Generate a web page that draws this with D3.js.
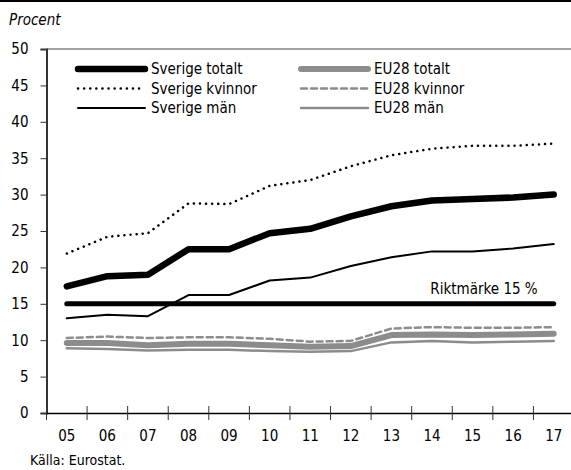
<!DOCTYPE html>
<html>
<head>
<meta charset="utf-8">
<script src="https://cdn.jsdelivr.net/npm/d3@7"></script>
<style>
  body { margin: 0; background: #fff; }
  svg { display: block; }
  text { font-family: "Liberation Sans Narrow", "DejaVu Sans Condensed", sans-serif; font-stretch: condensed; fill: #000; }
</style>
</head>
<body>
<svg></svg>
<script>
// år (x-axel)
const years = ["05", "06", "07", "08", "09", "10", "11", "12", "13", "14", "15", "16", "17"];
const yTicks = [0, 5, 10, 15, 20, 25, 30, 35, 40, 45, 50];

// serier, procent
const sverigeTotalt = [17.4, 18.8, 19.0, 22.5, 22.5, 24.7, 25.3, 27.0, 28.4, 29.2, 29.4, 29.6, 30.0];
const sverigeKvinnor = [21.9, 24.2, 24.7, 28.8, 28.7, 31.2, 32.0, 33.9, 35.4, 36.3, 36.7, 36.7, 37.0];
const sverigeMan = [13.0, 13.5, 13.3, 16.2, 16.2, 18.2, 18.6, 20.2, 21.4, 22.2, 22.2, 22.6, 23.2];
const eu28Totalt = [9.6, 9.6, 9.3, 9.5, 9.5, 9.3, 9.1, 9.2, 10.7, 10.8, 10.7, 10.8, 10.9];
const eu28Kvinnor = [10.3, 10.5, 10.3, 10.4, 10.4, 10.2, 9.8, 9.9, 11.6, 11.8, 11.7, 11.7, 11.8];
const eu28Man = [8.9, 8.8, 8.6, 8.7, 8.7, 8.5, 8.4, 8.5, 9.7, 9.9, 9.7, 9.8, 9.9];
const riktmarke = 15;

const w = 571;
const h = 470;
const margin = { top: 49, bottom: 57, left: 46.5, right: -3 };
const chartW = w - margin.left - margin.right;
const chartH = h - margin.top - margin.bottom;

const grey = "#8c8c8c";

const svg = d3.select("svg").attr("width", w).attr("height", h);

// top rule
svg.append("line")
  .attr("x1", 0).attr("x2", w).attr("y1", 1).attr("y2", 1)
  .attr("stroke", "#000").attr("stroke-width", 2);

svg.append("text")
  .attr("x", 9).attr("y", 25)
  .attr("font-size", 15)
  .attr("font-style", "italic")
  .text("Procent");

svg.append("text")
  .attr("x", 30).attr("y", 465)
  .attr("font-size", 14)
  .text("Källa: Eurostat.");

const chart = svg.append("g")
  .attr("transform", `translate(${margin.left}, ${margin.top})`);

const xScale = d3.scaleBand().domain(years).range([0, chartW]);
const yScale = d3.scaleLinear().domain([0, 50]).range([chartH, 0]);

// top border of plot
chart.append("line")
  .attr("x1", 0).attr("x2", chartW).attr("y1", 0).attr("y2", 0)
  .attr("stroke", "#444").attr("stroke-width", 1);

// Y axis
const yAxis = chart.append("g")
  .call(d3.axisLeft(yScale).tickValues(yTicks).tickSize(6).tickPadding(12));
yAxis.select(".domain").attr("stroke", "#333").attr("stroke-width", 2);
yAxis.selectAll(".tick line").attr("stroke", "#333");
yAxis.selectAll("text").attr("font-size", 15).attr("font-family", null);

// X axis with ticks between categories
const xAxis = chart.append("g")
  .attr("transform", `translate(0, ${chartH})`)
  .call(d3.axisBottom(xScale).tickSize(0).tickPadding(17));
xAxis.select(".domain").attr("stroke", "#000").attr("stroke-width", 1.5);
xAxis.selectAll("text").attr("font-size", 15).attr("font-family", null);

chart.append("g")
  .selectAll("line")
  .data(years)
  .enter()
  .append("line")
  .attr("x1", d => xScale(d)).attr("x2", d => xScale(d))
  .attr("y1", chartH - 7).attr("y2", chartH + 7)
  .attr("stroke", "#333").attr("stroke-width", 1);

const cx = i => xScale(years[i]) + xScale.bandwidth() / 2;
const line = d3.line().x((d, i) => cx(i)).y(d => yScale(d));

const series = [
  { data: eu28Man, color: grey, width: 2.5, dash: null },
  { data: eu28Totalt, color: grey, width: 6, dash: null },
  { data: eu28Kvinnor, color: grey, width: 2.5, dash: "6 4" },
  { data: sverigeMan, color: "#000", width: 2, dash: null },
  { data: sverigeKvinnor, color: "#000", width: 2.5, dash: "0.1 6" },
  { data: sverigeTotalt, color: "#000", width: 6.5, dash: null }
];

// benchmark line
chart.append("path")
  .datum(years.map(() => riktmarke))
  .attr("d", line)
  .attr("fill", "none")
  .attr("stroke", "#000")
  .attr("stroke-width", 5)
  .attr("stroke-linecap", "round");

chart.append("text")
  .attr("x", cx(12) - 16)
  .attr("y", yScale(riktmarke) - 10)
  .attr("text-anchor", "end")
  .attr("font-size", 15)
  .text("Riktmärke 15 %");

chart.selectAll(".serie")
  .data(series)
  .enter()
  .append("path")
  .attr("class", "serie")
  .attr("d", d => line(d.data))
  .attr("fill", "none")
  .attr("stroke", d => d.color)
  .attr("stroke-width", d => d.width)
  .attr("stroke-dasharray", d => d.dash)
  .attr("stroke-linecap", "round")
  .attr("stroke-linejoin", "round");

// legend
const legend = [
  { name: "Sverige totalt", color: "#000", width: 6.5, dash: null, col: 0, row: 0 },
  { name: "Sverige kvinnor", color: "#000", width: 2.5, dash: "0.1 6", col: 0, row: 1 },
  { name: "Sverige män", color: "#000", width: 2, dash: null, col: 0, row: 2 },
  { name: "EU28 totalt", color: grey, width: 6, dash: null, col: 1, row: 0 },
  { name: "EU28 kvinnor", color: grey, width: 2.5, dash: "6 4", col: 1, row: 1 },
  { name: "EU28 män", color: grey, width: 2.5, dash: null, col: 1, row: 2 }
];
const legX = [78, 301];
const legY = 69;
const legStep = 19.5;

const lg = svg.append("g")
  .selectAll("g")
  .data(legend)
  .enter()
  .append("g")
  .attr("transform", d => `translate(${legX[d.col]}, ${legY + d.row * legStep})`);

lg.append("line")
  .attr("x1", 0).attr("x2", 67)
  .attr("stroke", d => d.color)
  .attr("stroke-width", d => d.width)
  .attr("stroke-dasharray", d => d.dash)
  .attr("stroke-linecap", "round");

lg.append("text")
  .attr("x", 73)
  .attr("y", 5)
  .attr("font-size", 15)
  .text(d => d.name);
</script>
</body>
</html>
